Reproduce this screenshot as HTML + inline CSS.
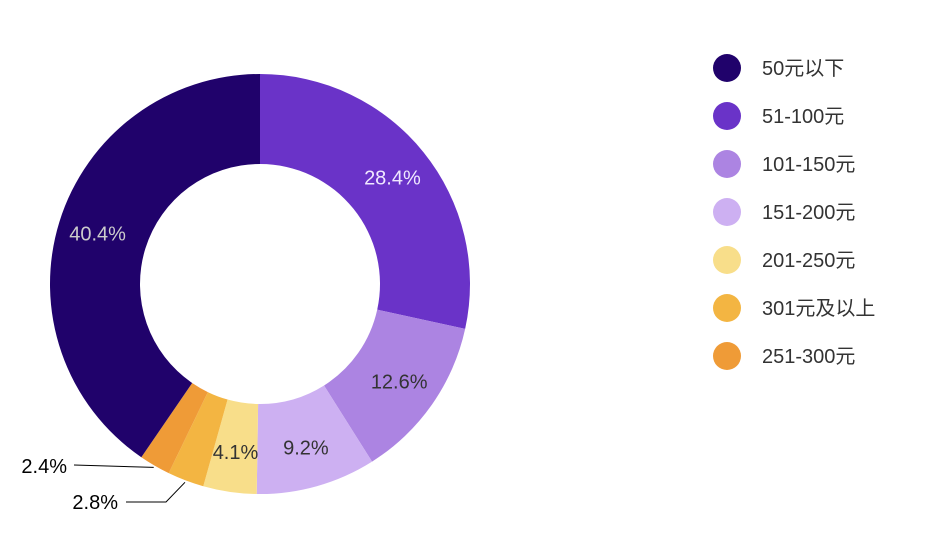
<!DOCTYPE html>
<html><head><meta charset="utf-8"><style>
body{margin:0;background:#fff;width:948px;height:551px;overflow:hidden}
svg{font-family:"Liberation Sans","Noto Sans CJK SC",sans-serif}
</style></head><body>
<svg id="c" width="948" height="551"></svg>
<script>
const categories=["51-100元","101-150元","151-200元","201-250元","301元及以上","251-300元","50元以下"];
const values=[28.4,12.6,9.2,4.1,2.8,2.4,40.4];
const colors=["#6a33c8","#ac84e2","#cdb0f2","#f8de8a","#f3b542","#ef9b37","#20026b"];
const labelColors=["#f0e8ff","#333","#333","#333","#000","#000","#ccc"];
const legendOrder=[6,0,1,2,3,4,5];
const ns="http://www.w3.org/2000/svg";
const svg=document.getElementById("c");
const cx=260,cy=284,R=210,r=120;
function mk(t,a){const e=document.createElementNS(ns,t);for(const k in a)e.setAttribute(k,a[k]);svg.appendChild(e);return e;}
const total=values.reduce((a,b)=>a+b,0);
function pt(ang,rad){return [cx+rad*Math.sin(ang),cy-rad*Math.cos(ang)];}
let a0=0;
values.forEach((v,i)=>{
  const a1=a0+v/total*2*Math.PI;
  const [x0,y0]=pt(a0,R),[x1,y1]=pt(a1,R),[x2,y2]=pt(a1,r),[x3,y3]=pt(a0,r);
  const lg=(a1-a0)>Math.PI?1:0;
  const p=mk("path",{d:`M${x0},${y0}A${R},${R} 0 ${lg} 1 ${x1},${y1}L${x2},${y2}A${r},${r} 0 ${lg} 0 ${x3},${y3}Z`,fill:colors[i]});
  
  
  const mid=(a0+a1)/2;
  if(v>=4){
    const [lx,ly]=pt(mid,170);
    const t=mk("text",{x:lx,y:ly+7,"text-anchor":"middle","font-size":20,fill:labelColors[i]});
    t.textContent=v.toFixed(1)+"%";
    
    
  }else{
    const [ex,ey]=pt(mid,R+2);
    let d,tx,ty;
    if(i===4){d=`M${ex},${ey}L166,502L126,502`;tx=118;ty=509;}
    else{d=`M${ex},${ey}L74,465`;tx=67;ty=473;}
    const l=mk("path",{d:d,stroke:"#000","stroke-width":1,fill:"none"});
    
    
    const t=mk("text",{x:tx,y:ty,"text-anchor":"end","font-size":20,fill:"#000"});
    t.textContent=v.toFixed(1)+"%";
    
    
  }
  a0=a1;
});
legendOrder.forEach((idx,k)=>{
  const y=68+k*48;
  const c=mk("circle",{cx:727,cy:y,r:14,fill:colors[idx]});
  
  
  const t=mk("text",{x:762,y:y+7,"font-size":20,fill:"#333"});
  t.textContent=categories[idx];
  
  
});
</script>
</body></html>
